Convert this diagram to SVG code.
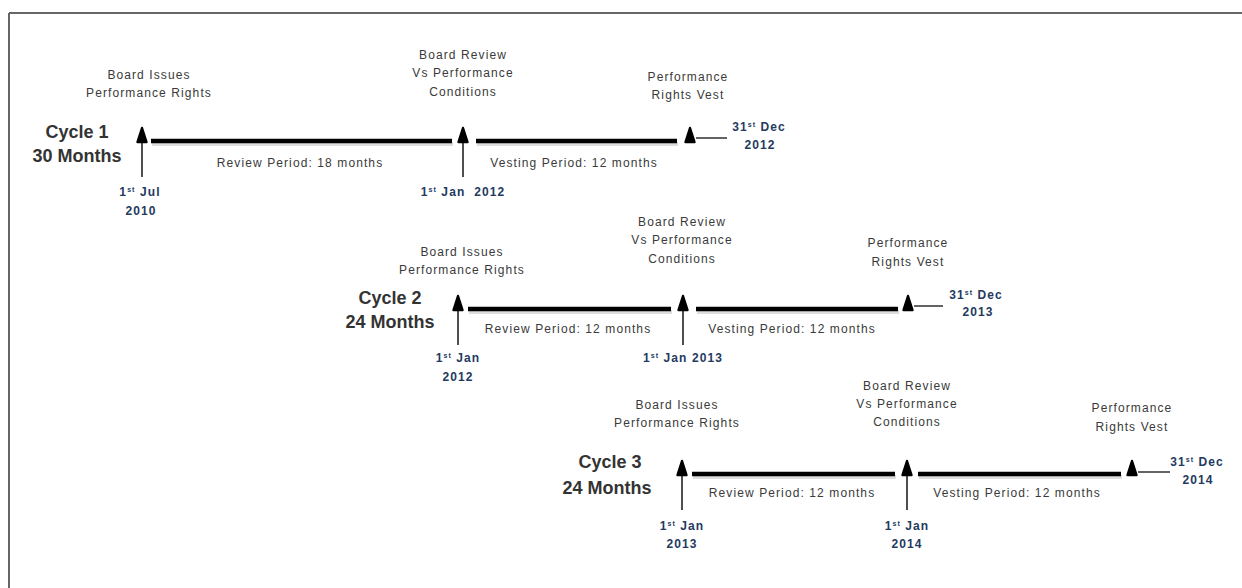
<svg xmlns="http://www.w3.org/2000/svg" width="1242" height="588" viewBox="0 0 1242 588">
<style>
.lbl{font-family:"Liberation Sans",Arial,sans-serif;font-size:12px;letter-spacing:1.1px;fill:#3a3a3a;text-anchor:middle}
.per{font-family:"Liberation Sans",Arial,sans-serif;font-size:12px;letter-spacing:1.1px;fill:#3a3a3a;text-anchor:middle}
.date{font-family:"Liberation Sans",Arial,sans-serif;font-size:12px;font-weight:bold;letter-spacing:1.1px;fill:#243a5e;text-anchor:middle}
.cyc{font-family:"Liberation Sans",Arial,sans-serif;font-size:18px;font-weight:bold;fill:#333;text-anchor:middle}
.sup{font-size:7px}
.thick{stroke:#000;stroke-width:4.5;stroke-linecap:butt}
.shadow{stroke:#d0d0d0;stroke-width:4;opacity:0.7}
.stem{stroke:#222;stroke-width:1.6}
.thin{stroke:#222;stroke-width:1.4}
.head{fill:#000;stroke:#000;stroke-width:2.4;stroke-linejoin:round}
</style>
<defs>
<path id="hd" class="head" d="M0,-13 L4.5,1 L-4.5,1 Z"/>
</defs>
<g id="frame">
<line x1="9" y1="13" x2="1242" y2="13" stroke="#666" stroke-width="2"/>
<line x1="9" y1="13" x2="9" y2="588" stroke="#666" stroke-width="2"/>
</g>
<g id="connectors">
<line class="shadow" x1="152" y1="144" x2="453" y2="144"/>
<line class="thick" x1="151" y1="141" x2="452" y2="141"/>
<line class="shadow" x1="477" y1="144" x2="678" y2="144"/>
<line class="thick" x1="476" y1="141" x2="677" y2="141"/>
<line class="stem" x1="142" y1="142" x2="142" y2="177"/>
<line class="stem" x1="463" y1="142" x2="463" y2="177"/>
<line class="thin" x1="696" y1="138" x2="727" y2="138"/>
<line class="shadow" x1="469" y1="312" x2="672" y2="312"/>
<line class="thick" x1="468" y1="309" x2="671" y2="309"/>
<line class="shadow" x1="697" y1="312" x2="899" y2="312"/>
<line class="thick" x1="696" y1="309" x2="898" y2="309"/>
<line class="stem" x1="458" y1="310" x2="458" y2="345"/>
<line class="stem" x1="683" y1="310" x2="683" y2="345"/>
<line class="thin" x1="914" y1="306" x2="943" y2="306"/>
<line class="shadow" x1="693" y1="477" x2="896" y2="477"/>
<line class="thick" x1="692" y1="474" x2="895" y2="474"/>
<line class="shadow" x1="919" y1="477" x2="1122" y2="477"/>
<line class="thick" x1="918" y1="474" x2="1121" y2="474"/>
<line class="stem" x1="682" y1="475" x2="682" y2="510"/>
<line class="stem" x1="907" y1="475" x2="907" y2="510"/>
<line class="thin" x1="1138" y1="472" x2="1170" y2="472"/>
<use href="#hd" x="142" y="141"/>
<use href="#hd" x="463" y="141"/>
<use href="#hd" x="690" y="141"/>
<use href="#hd" x="458" y="309"/>
<use href="#hd" x="683" y="309"/>
<use href="#hd" x="908" y="309"/>
<use href="#hd" x="682" y="474"/>
<use href="#hd" x="907" y="474"/>
<use href="#hd" x="1132" y="474"/>
</g>
<g id="cycle1">
<text class="cyc" x="77" y="138">Cycle 1</text>
<text class="cyc" x="77" y="162">30 Months</text>
</g>
<g id="c1-issue">
<text class="lbl" x="149" y="79">Board Issues</text>
<text class="lbl" x="149" y="97">Performance Rights</text>
<text class="date" x="140" y="196">1<tspan class="sup" dy="-4">st</tspan><tspan dy="4"> Jul</tspan></text>
<text class="date" x="141" y="215">2010</text>
</g>
<g id="c1-review">
<text class="lbl" x="463" y="59">Board Review</text>
<text class="lbl" x="463" y="77">Vs Performance</text>
<text class="lbl" x="463" y="96">Conditions</text>
<text class="date" x="463" y="196">1<tspan class="sup" dy="-4">st</tspan><tspan dy="4"> Jan&#160; 2012</tspan></text>
</g>
<g id="c1-vest">
<text class="lbl" x="688" y="81">Performance</text>
<text class="lbl" x="688" y="99">Rights Vest</text>
<text class="date" x="759" y="131">31<tspan class="sup" dy="-4">st</tspan><tspan dy="4"> Dec</tspan></text>
<text class="date" x="760" y="149">2012</text>
</g>
<g id="c1-periods">
<text class="per" x="300" y="167">Review Period: 18 months</text>
<text class="per" x="574" y="167">Vesting Period: 12 months</text>
</g>
<g id="cycle2">
<text class="cyc" x="390" y="304">Cycle 2</text>
<text class="cyc" x="390" y="328">24 Months</text>
</g>
<g id="c2-issue">
<text class="lbl" x="462" y="256">Board Issues</text>
<text class="lbl" x="462" y="274">Performance Rights</text>
<text class="date" x="458" y="362">1<tspan class="sup" dy="-4">st</tspan><tspan dy="4"> Jan</tspan></text>
<text class="date" x="458" y="381">2012</text>
</g>
<g id="c2-review">
<text class="lbl" x="682" y="226">Board Review</text>
<text class="lbl" x="682" y="244">Vs Performance</text>
<text class="lbl" x="682" y="263">Conditions</text>
<text class="date" x="683" y="362">1<tspan class="sup" dy="-4">st</tspan><tspan dy="4"> Jan 2013</tspan></text>
</g>
<g id="c2-vest">
<text class="lbl" x="908" y="247">Performance</text>
<text class="lbl" x="908" y="266">Rights Vest</text>
<text class="date" x="976" y="299">31<tspan class="sup" dy="-4">st</tspan><tspan dy="4"> Dec</tspan></text>
<text class="date" x="978" y="316">2013</text>
</g>
<g id="c2-periods">
<text class="per" x="568" y="333">Review Period: 12 months</text>
<text class="per" x="792" y="333">Vesting Period: 12 months</text>
</g>
<g id="cycle3">
<text class="cyc" x="610" y="468">Cycle 3</text>
<text class="cyc" x="607" y="494">24 Months</text>
</g>
<g id="c3-issue">
<text class="lbl" x="677" y="409">Board Issues</text>
<text class="lbl" x="677" y="427">Performance Rights</text>
<text class="date" x="682" y="530">1<tspan class="sup" dy="-4">st</tspan><tspan dy="4"> Jan</tspan></text>
<text class="date" x="682" y="548">2013</text>
</g>
<g id="c3-review">
<text class="lbl" x="907" y="390">Board Review</text>
<text class="lbl" x="907" y="408">Vs Performance</text>
<text class="lbl" x="907" y="426">Conditions</text>
<text class="date" x="907" y="530">1<tspan class="sup" dy="-4">st</tspan><tspan dy="4"> Jan</tspan></text>
<text class="date" x="907" y="548">2014</text>
</g>
<g id="c3-vest">
<text class="lbl" x="1132" y="412">Performance</text>
<text class="lbl" x="1132" y="431">Rights Vest</text>
<text class="date" x="1197" y="466">31<tspan class="sup" dy="-4">st</tspan><tspan dy="4"> Dec</tspan></text>
<text class="date" x="1198" y="484">2014</text>
</g>
<g id="c3-periods">
<text class="per" x="792" y="497">Review Period: 12 months</text>
<text class="per" x="1017" y="497">Vesting Period: 12 months</text>
</g>
</svg>
